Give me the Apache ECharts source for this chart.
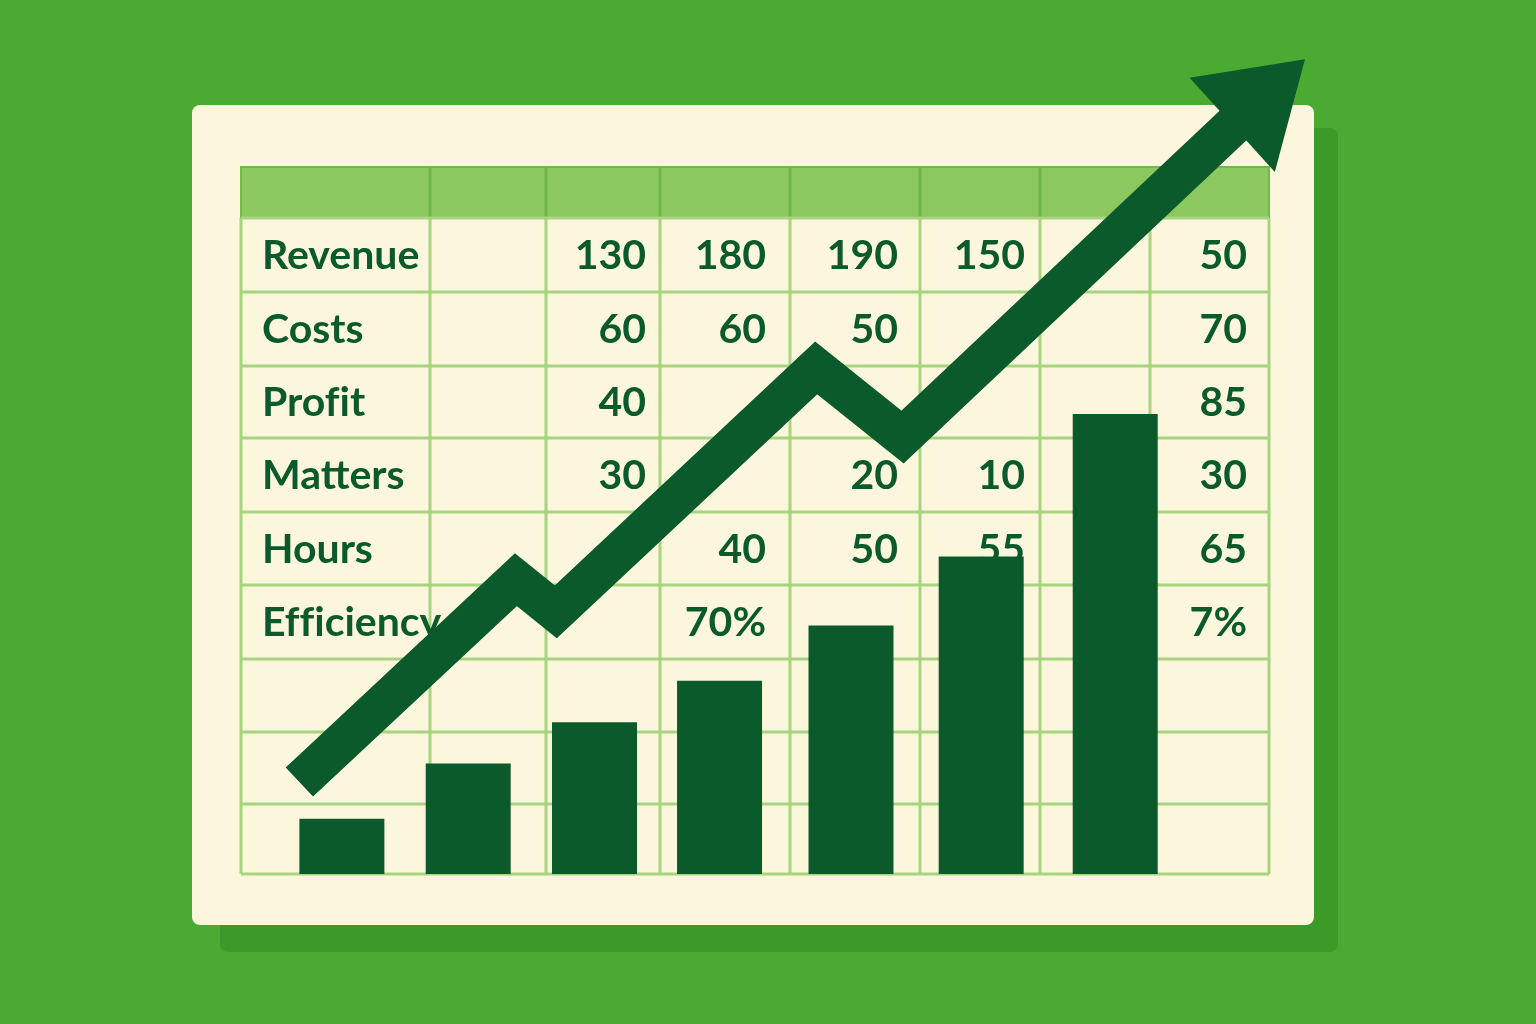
<!DOCTYPE html>
<html>
<head>
<meta charset="utf-8">
<script src="https://cdn.jsdelivr.net/npm/echarts@6/dist/echarts.min.js"></script>
<style>
  html, body { margin: 0; padding: 0; background: #4aaa31; }
  #chart { width: 1536px; height: 1024px; }
</style>
</head>
<body>
<div id="chart"></div>
<script>
// table contents (ZWNJ keeps "fi" from turning into a ligature)
const rowLabels = ['Revenue', 'Costs', 'Prof\u200Cit', 'Matters', 'Hours', 'Ef\u200Cf\u200Ciciency'];
const tableValues = [
  ['', '130', '180', '190', '150', '', '50'],
  ['', '60', '60', '50', '', '', '70'],
  ['', '40', '', '', '', '', '85'],
  ['', '30', '', '20', '10', '', '30'],
  ['', '', '40', '50', '55', '', '65'],
  ['', '', '70%', '', '', '', '7%']
];

// bars: position along the period axis and height
const barX = [1, 1.98, 2.96, 3.93, 4.95, 5.96, 7];
const barValues = [12, 24, 33, 42, 54, 69, 100];

// trend arrow, same axes as the bars
const trendX = [0.67, 2.35, 2.66, 4.68, 5.35, 8.19];
const trendY = [20, 64, 57, 110, 95, 170];

const dark = '#0b5a2c';
const gridLine = '#a6d47f';

// layout of the sheet
const colEdges = [241, 430, 546, 660, 790, 920, 1040, 1150, 1269];
const rowEdges = [218, 292, 366, 438, 512, 585, 659, 732, 804, 874];
const headerTop = 167;
const valueRight = [0, 646, 766, 898, 1025, 0, 1247];

const graphics = [];
// card shadow + card
graphics.push({ type: 'rect', z: 0, shape: { x: 220, y: 128, width: 1118, height: 824, r: 8 }, style: { fill: '#3c9a29' } });
graphics.push({ type: 'rect', z: 0, shape: { x: 192, y: 105, width: 1122, height: 820, r: 8 }, style: { fill: '#fcf7dc' } });
// header band
graphics.push({ type: 'rect', z: 1, shape: { x: 241, y: headerTop, width: 1028, height: rowEdges[0] - headerTop }, style: { fill: '#8cc860', stroke: '#72b84a', lineWidth: 2 } });
for (let i = 1; i < colEdges.length - 1; i++) {
  if (colEdges[i] === 1150) continue;
  graphics.push({ type: 'line', z: 1, shape: { x1: colEdges[i], y1: headerTop, x2: colEdges[i], y2: rowEdges[0] }, style: { stroke: '#6db546', lineWidth: 3 } });
}
// grid lines
rowEdges.forEach(function (y) {
  graphics.push({ type: 'line', z: 1, shape: { x1: 241, y1: y, x2: 1269, y2: y }, style: { stroke: gridLine, lineWidth: 3 } });
});
colEdges.forEach(function (x) {
  graphics.push({ type: 'line', z: 1, shape: { x1: x, y1: rowEdges[0], x2: x, y2: rowEdges[rowEdges.length - 1] }, style: { stroke: gridLine, lineWidth: 3 } });
});
// text
const font = 'bold 41px Lato, "Open Sans", sans-serif';
rowLabels.forEach(function (label, r) {
  const cy = (rowEdges[r] + rowEdges[r + 1]) / 2 + 1;
  graphics.push({ type: 'text', z: 2, style: { text: label, x: 262, y: cy, fill: dark, font: font, textAlign: 'left', textVerticalAlign: 'middle' } });
  tableValues[r].forEach(function (v, c) {
    if (!v) return;
    graphics.push({ type: 'text', z: 2, style: { text: v, x: valueRight[c], y: cy, fill: dark, font: font, textAlign: 'right', textVerticalAlign: 'middle' } });
  });
});

const trendData = trendX.map(function (x, i) {
  const p = { value: [x, trendY[i]] };
  if (i === trendX.length - 1) {
    p.symbol = 'triangle';
    p.symbolSize = [127, 98];
    p.symbolRotate = -47.9;
  }
  return p;
});

const chart = echarts.init(document.getElementById('chart'));
chart.setOption({
  animation: false,
  backgroundColor: '#4aaa31',
  graphic: { elements: graphics },
  grid: { left: 213, right: 163, top: 46, bottom: 150 },
  xAxis: { type: 'value', min: 0, max: 9, show: false },
  yAxis: { type: 'value', min: 0, max: 180, show: false },
  series: [
    {
      type: 'bar',
      data: barX.map(function (x, i) { return [x, barValues[i]]; }),
      barWidth: 85,
      z: 5,
      itemStyle: { color: dark },
      silent: true
    },
    {
      type: 'line',
      data: trendData,
      z: 6,
      symbol: 'none',
      showSymbol: true,
      itemStyle: { color: dark },
      lineStyle: { color: dark, width: 40, join: 'miter', miterLimit: 10, cap: 'butt' },
      silent: true
    }
  ]
});
</script>
</body>
</html>
